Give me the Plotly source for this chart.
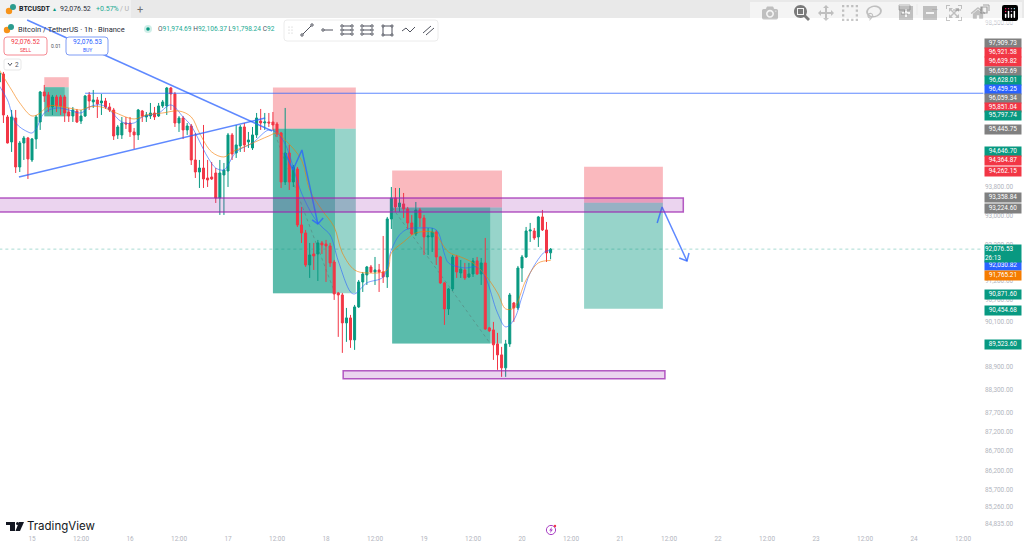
import pandas as pd
import plotly.graph_objects as go

W = 1024
H = 549
BASE = pd.Timestamp('2026-01-15')

GREEN = '#089981'
RED = '#f23645'
BLUE = '#2962ff'
PURPLE = '#9c27b0'

# hours since 15 Jan 00:00, one candle per hour
hours = list(range(-8, 128))

opens = [96784, 97016, 95779, 95068, 95750, 94361, 95039, 95181, 94558, 95153, 95636, 96496, 96410, 96065, 96352, 96352,
         96352, 95922, 95807, 95950, 95664, 95807, 96410, 96209, 96266, 96180, 96237, 96065, 95979, 95267, 95267, 95607,
         95607, 95352, 95267, 95950, 95779, 95807, 95893, 95807, 96094, 96094, 96611, 96438, 95607, 95750, 95409, 95522,
         94558, 94220, 94332, 94052, 94080, 94192, 93492, 94136, 94248, 95267, 94756, 94955, 95494, 95068, 94898, 95267,
         95664, 95607, 95636, 95636, 95579, 95323, 93940, 94756, 93940, 94304, 92743, 92522, 91643, 91945, 91945, 92247,
         92219, 92164, 91725, 90881, 90827, 90073, 90207, 89618, 90503, 91180, 91371, 91589, 91452, 91507, 91452, 91316,
         92910, 93492, 93243, 93326, 93187, 92799, 92494, 93159, 92937, 92412, 92412, 92550, 91862, 91153, 90449, 90990,
         91862, 91425, 91507, 91316, 91398, 91753, 91398, 91698, 89939, 89885, 89511, 89218, 88873, 89511, 90611, 90476,
         91561, 91862, 92577, 92577, 92412, 92965, 92605, 91974.69]
highs = [97074, 97074, 95836, 95979, 95979, 95096, 95238, 95210, 95181, 95836, 96525, 96698, 96496, 96410, 96410, 96410,
         96410, 96037, 96065, 96008, 95979, 96410, 96496, 96553, 96352, 96438, 96324, 96180, 96037, 95551, 95779, 95779,
         95779, 95465, 96008, 95979, 95922, 96180, 96065, 96180, 96266, 96640, 96640, 96496, 95807, 95807, 95607, 95579,
         95323, 94558, 95551, 94558, 94502, 94332, 94558, 94474, 95323, 95323, 95551, 95551, 95607, 95352, 95494, 95893,
         96008, 95893, 95893, 95922, 95636, 95352, 96037, 94983, 94417, 94361, 93243, 92605, 92247, 92247, 92329, 92301,
         92329, 92247, 91780, 90908, 90881, 90476, 90288, 90557, 91234, 91452, 91616, 91643, 91862, 91671, 92439, 92965,
         93800, 93772, 93772, 93632, 93243, 93021, 93381, 93215, 93021, 92660, 92660, 92605, 91890, 91180, 91017, 91917,
         91917, 91780, 91698, 91698, 91835, 91862, 91835, 92384, 89966, 90100, 89805, 89431, 89618, 90881, 90638, 91616,
         91917, 92688, 92799, 92660, 92993, 93159, 92826, 92106.37]
lows = [96698, 95607, 95025, 94785, 94192, 94220, 94558, 94024, 94502, 94870, 95409, 96209, 95922, 95836, 95922, 95836,
        95636, 95636, 95636, 95607, 95579, 95779, 95979, 96037, 95750, 95836, 96008, 95922, 95124, 95153, 95153, 95437,
        95210, 94870, 95124, 95636, 95636, 95722, 95693, 95779, 96037, 95836, 95979, 95494, 95352, 95153, 95267, 94417,
        94052, 93772, 93772, 93800, 93996, 93353, 93021, 93021, 93800, 94558, 94615, 94785, 94785, 94898, 94841, 95181,
        95409, 95409, 95494, 95409, 95210, 93772, 93856, 93716, 93800, 92688, 92247, 91589, 91289, 91507, 91207, 91945,
        91180, 91589, 90692, 89698, 89271, 89565, 89404, 89351, 90476, 90908, 91098, 91425, 91098, 90908, 91153, 91017,
        92632, 93104, 93104, 92937, 92632, 92467, 92439, 92688, 91917, 91917, 91999, 91643, 91126, 90019, 90288, 90935,
        91289, 91289, 91234, 91289, 91316, 91371, 91098, 89885, 89832, 89085, 88820, 88635, 88635, 89431, 90100, 90422,
        91180, 91835, 92274, 92329, 92137, 92577, 91725, 91798.24]
closes = [97045, 95836, 95039, 95779, 94361, 95039, 95181, 94587, 95153, 95779, 96496, 96381, 96065, 96352, 96094, 96094,
          95893, 95807, 95979, 95636, 95807, 96381, 96237, 96266, 96151, 96237, 96065, 95979, 95238, 95494, 95607, 95579,
          95352, 95267, 95979, 95807, 95836, 95893, 95779, 96094, 96209, 96611, 96438, 95607, 95750, 95409, 95522, 94558,
          94220, 94332, 94024, 93996, 94024, 93492, 94192, 94276, 95267, 94728, 94983, 95494, 94983, 95124, 95267, 95750,
          95607, 95636, 95607, 95551, 95295, 93940, 94756, 93940, 94361, 92743, 92522, 91643, 91917, 91890, 92247, 92192,
          92164, 91698, 90854, 90827, 90073, 90207, 89618, 90503, 91180, 91398, 91589, 91452, 91507, 91452, 91316, 92910,
          93492, 93243, 93353, 93187, 92799, 92494, 93159, 92937, 92412, 92439, 92550, 91862, 91153, 90449, 90990, 91862,
          91452, 91534, 91289, 91398, 91753, 91398, 91698, 89912, 89858, 89485, 89218, 88873, 89511, 90827, 90476, 91561,
          91862, 92577, 92605, 92384, 92965, 92605, 91972, 92076.53]

fast_hours = [-8, -6, -4, -1, 0, 1, 3, 6, 9, 12, 14, 17, 19, 22, 25, 27, 31, 34, 37, 39, 43, 45, 47, 48, 50, 54, 58, 60, 62,
              66, 69, 71, 73, 75, 78, 79, 82, 86, 88, 90, 92, 95, 99, 101, 102, 106, 109, 111, 114, 116, 118, 120, 122,
              125, 126, 127]
fast_ma = [96669, 96266, 95607, 95352, 95323, 95437, 95893, 96037, 95979, 95893, 96065, 96123, 95979, 95636, 95607, 95779,
           95893, 96123, 95779, 95522, 94643, 94332, 94276, 94417, 94785, 95039, 95409, 95323, 95011, 93632, 92965, 92688,
           92467, 91753, 90908, 90854, 91153, 91316, 92054, 92467, 92632, 92660, 92605, 91945, 91698, 91561, 91589, 91316,
           90341, 89966, 90153, 90773, 91425, 91945, 92027, 92030.82]
slow_hours = [-8, -5, -3, 0, 2, 4, 9, 12, 14, 17, 20, 25, 28, 32, 36, 39, 41, 44, 47, 49, 53, 58, 60, 62, 66, 68, 71, 74, 76,
              79, 82, 87, 88, 91, 94, 98, 99, 102, 105, 108, 111, 114, 116, 118, 121, 124, 127]
slow_ma = [97131, 96553, 96180, 95807, 95893, 96094, 96037, 95979, 96065, 96065, 95922, 95722, 95836, 95893, 95950, 95779,
           95323, 94785, 94643, 94785, 94983, 95238, 95323, 95124, 94558, 93716, 93159, 92688, 91972, 91507, 91425, 91507,
           91972, 92274, 92522, 92550, 92467, 91999, 91862, 91698, 91371, 90881, 90449, 90476, 91234, 91698, 91765.21]

y_ticks = [98500, 97900, 93800, 93000, 92200, 91200, 90700, 90100, 89500, 88900, 88300, 87700, 87200, 86700, 86200, 85700,
           85260, 84835]
day_labels = ['15', '12:00', '16', '12:00', '17', '12:00', '18', '12:00', '19', '12:00', '20', '12:00', '21', '12:00',
              '22', '12:00', '23', '12:00', '24', '12:00']

# right hand price labels
label_prices = ['97,909.73', '96,921.58', '96,639.82', '96,632.69', '96,628.01', '96,459.25', '96,059.34', '95,851.04',
                '95,797.74', '95,445.75', '94,646.70', '94,364.87', '94,262.15', '93,358.84', '93,224.60',
                '92,030.82', '91,765.21', '90,871.60', '90,454.68', '89,523.60']
label_colors = ['#808080', RED, RED, '#808080', GREEN, BLUE, '#808080', RED, GREEN, '#808080', GREEN, RED, RED,
                '#808080', '#808080', BLUE, '#f57c00', GREEN, GREEN, GREEN]
label_rows = [43, 52, 62, 71, 80, 89, 98, 107, 116, 129, 152, 161, 171, 198, 208, 266, 275, 294, 310, 344]


def t(h):
    return BASE + pd.Timedelta(hours=h)


def px(x):
    return x / W


def py(y):
    return 1 - y / H


def times(hs):
    return [t(h) for h in hs]


fig = go.Figure()

fig.add_trace(go.Candlestick(
    x=times(hours), open=opens, high=highs, low=lows, close=closes,
    whiskerwidth=0,
    increasing=dict(line=dict(color=GREEN, width=1), fillcolor=GREEN),
    decreasing=dict(line=dict(color=RED, width=1), fillcolor=RED),
))
fig.add_trace(go.Scatter(x=times(fast_hours), y=fast_ma, mode='lines',
                         line=dict(color='rgba(41,98,255,0.6)', width=1, shape='spline')))
fig.add_trace(go.Scatter(x=times(slow_hours), y=slow_ma, mode='lines',
                         line=dict(color='rgba(245,124,0,0.6)', width=1, shape='spline')))


def zone(h0, h1, p0, p1, color):
    fig.add_shape(type='rect', xref='x', yref='y', x0=t(h0), x1=t(h1), y0=p0, y1=p1, layer='below',
                  line=dict(width=0), fillcolor=color)


PINK = 'rgba(242,54,69,0.35)'
TEAL = 'rgba(8,153,129,0.42)'

# position tools: stop, target and the filled part of the target
zone(3, 9, 96632.69, 96921.58, PINK)
zone(3, 9, 95797.74, 96632.69, TEAL)
zone(3, 8, 95797.74, 96632.69, TEAL)
zone(59, 79.3, 95445.75, 96628.01, PINK)
zone(59, 79.3, 90871.60, 95445.75, TEAL)
zone(59, 74.2, 90871.60, 95445.75, TEAL)
zone(88.2, 115.1, 93224.60, 94262.15, PINK)
zone(88.2, 115.1, 89523.60, 93224.60, TEAL)
zone(88.2, 112.2, 89523.60, 93224.60, TEAL)
zone(135.2, 154.5, 93358.84, 94364.87, PINK)
zone(135.2, 154.5, 90454.68, 93358.84, TEAL)

for h0, p0, h1, p1 in [(59, 95445.75, 74.2, 90871.60), (88.2, 93224.60, 112.2, 89523.60)]:
    fig.add_shape(type='line', xref='x', yref='y', x0=t(h0), x1=t(h1), y0=p0, y1=p1, layer='below',
                  line=dict(color='rgba(90,90,90,0.35)', width=1, dash='dot'))

# support / resistance strips
for h0, h1, p0, p1 in [(-10, 159.5, 93104, 93492), (76.2, 155, 88582, 88794)]:
    fig.add_shape(type='rect', xref='x', yref='y', x0=t(h0), x1=t(h1), y0=p0, y1=p1, layer='above',
                  line=dict(color='rgba(156,39,176,0.75)', width=1.5), fillcolor='rgba(156,39,176,0.2)')

# last price
fig.add_shape(type='line', xref='x', yref='y', x0=t(-8), x1=t(233), y0=92076.53, y1=92076.53, layer='below',
              line=dict(color='rgba(8,153,129,0.35)', width=1, dash='dot'))

# drawn trend lines
for h0, p0, h1, p1, w in [(-1.2, 98590, 58.8, 95380, 1.5), (-3.2, 94080, 57.1, 95750, 1.5), (13, 96459.25, 233, 96459.25, 1)]:
    fig.add_shape(type='line', xref='x', yref='y', x0=t(h0), x1=t(h1), y0=p0, y1=p1, layer='above',
                  line=dict(color='rgba(41,98,255,0.75)', width=w))

# projected moves
arrow_paths = [
    ([62, 63.9, 66.1, 70], [94756, 94276, 94841, 92771]),
    ([68.6, 70, 71.3], [92882, 92771, 92937]),
    ([153.1, 154.3, 160.4], [92799, 93243, 91753]),
    ([158.5, 160.4, 160.9], [91835, 91753, 91972]),
]
for hs, ps in arrow_paths:
    fig.add_trace(go.Scatter(x=times(hs), y=ps, mode='lines', line=dict(color='rgba(41,98,255,0.75)', width=1.5)))


# window chrome, in pixels
def box(x0, y0, x1, y1, fill, line=None, lw=1, r=0):
    a, b, c, d = px(x0), py(y0), px(x1), py(y1)
    if r:
        rx, ry = r / W, r / H
        path = (f'M{a + rx},{b} L{c - rx},{b} Q{c},{b} {c},{b - ry} L{c},{d + ry} Q{c},{d} {c - rx},{d} '
                f'L{a + rx},{d} Q{a},{d} {a},{d + ry} L{a},{b - ry} Q{a},{b} {a + rx},{b} Z')
        fig.add_shape(type='path', path=path, xref='paper', yref='paper', fillcolor=fill,
                      line=dict(color=line or fill, width=lw if line else 0))
    else:
        fig.add_shape(type='rect', xref='paper', yref='paper', x0=a, x1=c, y0=b, y1=d, fillcolor=fill,
                      line=dict(color=line or fill, width=lw if line else 0))


def dot(x, y, r, fill, line=None):
    fig.add_shape(type='circle', xref='paper', yref='paper', x0=px(x - r), x1=px(x + r), y0=py(y + r), y1=py(y - r),
                  fillcolor=fill, line=dict(color=line or fill, width=1 if line else 0))


def seg(x0, y0, x1, y1, color='#50535e', w=1):
    fig.add_shape(type='line', xref='paper', yref='paper', x0=px(x0), x1=px(x1), y0=py(y0), y1=py(y1),
                  line=dict(color=color, width=w))


def text(x, y, s, size=7, color='#131722', anchor='left', family='Roboto', bold=False):
    fig.add_annotation(xref='paper', yref='paper', x=px(x), y=py(y), text=f'<b>{s}</b>' if bold else s, showarrow=False,
                       xanchor=anchor, yanchor='middle', borderpad=0, font=dict(size=size, color=color, family=family))


box(0, 0, 1024, 18, '#e9e9e9')
box(0, 0, 131, 18, '#f1f1f1')
dot(9, 11, 3.2, '#f7931a')
dot(13, 7, 3, '#2b9c8f')
text(18, 9.5, 'BTCUSDT', 7, '#131722', bold=True)
text(51, 9.5, '▲', 5, GREEN)
text(59, 9.5, '92,076.52', 7, '#2a2e39')
text(95, 9.5, '+0.57%', 7, '#22ab94')
text(119, 9.5, '/ U', 7, '#b0b0b0')
text(140, 9.5, '+', 11, '#707070', anchor='center')

box(899, 5, 910, 10, '#e9e9e9', '#707070', 1)
seg(904.5, 10, 904.5, 14, '#707070')
seg(901, 14, 908, 14, '#707070')
seg(917, 4, 917, 15, '#d5d5d5')
text(935, 9.5, '•••', 6, '#909090', anchor='center')
seg(953, 10, 961, 10, '#555555')
box(981, 7, 987, 13, '#e9e9e9', '#444444', 1.2)
seg(983, 5, 989, 5, '#444444')
seg(989, 5, 989, 11, '#444444')
seg(1007, 6, 1015, 14, '#555555')
seg(1015, 6, 1007, 14, '#555555')

dot(7, 30, 3.2, '#f7931a')
dot(11, 27, 3, '#2b9c8f')
text(17, 29.5, 'Bitcoin / TetherUS · 1h · Binance', 7.5, '#2a2e39')
dot(148, 29, 4, '#cfeee8')
dot(148, 29, 1.8, GREEN)
text(157, 29.5, ('O<span style="color:#22ab94">91,974.69</span> H<span style="color:#22ab94">92,106.37</span> '
                 'L<span style="color:#22ab94">91,798.24</span> C<span style="color:#22ab94">92</span>'), 6.6, '#50535e')

box(4, 37, 47, 55, '#ffffff', '#f58a93', 1, r=3)
text(25.5, 42, '92,076.52', 6.6, RED, anchor='center')
text(25.5, 50, 'SELL', 5, RED, anchor='center')
text(56, 46, '0.01', 5, '#50535e', anchor='center')
box(66, 37, 108, 55, '#ffffff', '#7f9cf5', 1, r=3)
text(87, 42, '92,076.53', 6.6, BLUE, anchor='center')
text(87, 50, 'BUY', 5, BLUE, anchor='center')
box(4, 59, 21, 70, '#ffffff', '#e8e8e8', 1, r=2)
seg(8, 63, 10, 65.5, '#50535e')
seg(10, 65.5, 12, 63, '#50535e')
text(16.5, 64.5, '2', 6.5, '#50535e', anchor='center')

# drawing toolbar
box(284, 20, 438, 41, '#ffffff', '#ececec', 1, r=3)
for x in (289, 292):
    for y in (27, 30, 33):
        dot(x, y, 0.6, '#c4c4c4')
seg(302, 35, 312, 25)
dot(302, 35, 1.2, '#ffffff', '#50535e')
dot(312, 25, 1.2, '#ffffff', '#50535e')
seg(324, 30, 333, 30)
dot(323, 30, 1.2, '#ffffff', '#50535e')
for y in (26, 30, 34):
    seg(342, y, 352, y)
    dot(342, y, 1.2, '#ffffff', '#50535e')
    dot(352, y, 1.2, '#ffffff', '#50535e')
    seg(362, y, 372, y)
    dot(362, y, 1.2, '#ffffff', '#50535e')
    dot(372, y, 1.2, '#ffffff', '#50535e')
box(383, 26, 392, 35, '#ffffff', '#50535e', 1)
for x, y in [(383, 26), (392, 26), (383, 35), (392, 35)]:
    dot(x, y, 1.1, '#ffffff', '#50535e')
for x0, y0, x1, y1 in [(402, 31, 406, 28), (406, 28, 410, 32), (410, 32, 415, 27)]:
    seg(x0, y0, x1, y1)
seg(423, 33, 431, 26)
seg(426, 35, 434, 28)

# TradingView mark
box(6, 522, 15, 525, '#131722')
box(10, 525, 15, 531, '#131722')
dot(17.5, 523.5, 1.5, '#131722')
fig.add_shape(type='path', xref='paper', yref='paper', fillcolor='#131722', line=dict(width=0),
              path=f'M{px(19)},{py(522)} L{px(24)},{py(522)} L{px(20)},{py(531)} L{px(15.5)},{py(531)} Z')
text(26, 526, 'TradingView', 11.5, '#131722', family='Inter', bold=False)

# spark icon next to the time axis
dot(551, 530, 4.6, '#ffffff', '#a93fc4')
fig.add_shape(type='path', xref='paper', yref='paper', fillcolor='#a93fc4', line=dict(width=0),
              path=(f'M{px(552)},{py(526.8)} L{px(549.2)},{py(530.6)} L{px(550.8)},{py(530.6)} '
                    f'L{px(550)},{py(533.2)} L{px(552.9)},{py(529.4)} L{px(551.2)},{py(529.4)} Z'))
dot(555, 526, 1.2, RED)

# price labels on the scale
for s, c, row in zip(label_prices, label_colors, label_rows):
    fig.add_annotation(xref='paper', yref='paper', x=px(984), y=py(row), text=s, showarrow=False, xanchor='left',
                       yanchor='middle', width=36, height=8.6, bgcolor=c, borderpad=0, align='center',
                       font=dict(size=6.4, color='#ffffff', family='Roboto'))
fig.add_annotation(xref='paper', yref='paper', x=px(984), y=py(253), text='92,076.53<br>26:13', showarrow=False,
                   xanchor='left', yanchor='middle', width=36, height=17, bgcolor=GREEN, borderpad=0, align='left',
                   font=dict(size=6.4, color='#ffffff', family='Roboto'))

fig.update_layout(
    width=W,
    height=H,
    autosize=False,
    margin=dict(l=0, r=0, t=0, b=0),
    paper_bgcolor='#ffffff',
    plot_bgcolor='#ffffff',
    showlegend=False,
    hovermode=False,
    xaxis=dict(
        domain=[0, 984 / W],
        type='date',
        range=[t(-7.84), t(233.14)],
        rangeslider=dict(visible=False),
        tickmode='array',
        tickvals=times(range(0, 240, 12)),
        ticktext=day_labels,
        tickfont=dict(size=6.4, color='#b2b5be', family='Roboto'),
        showgrid=False,
        zeroline=False,
        showline=False,
        ticks='',
    ),
    yaxis=dict(
        domain=[1 - 534 / H, 1 - 18 / H],
        type='log',
        side='right',
        range=[4.92725, 4.99409],
        tickmode='array',
        tickvals=y_ticks,
        tickformat=',.2f',
        tickfont=dict(size=6.4, color='#b2b5be', family='Roboto'),
        showgrid=False,
        zeroline=False,
        showline=False,
        ticks='',
    ),
)

fig.write_html("out.html", post_script="document.body.style.margin='0';")
